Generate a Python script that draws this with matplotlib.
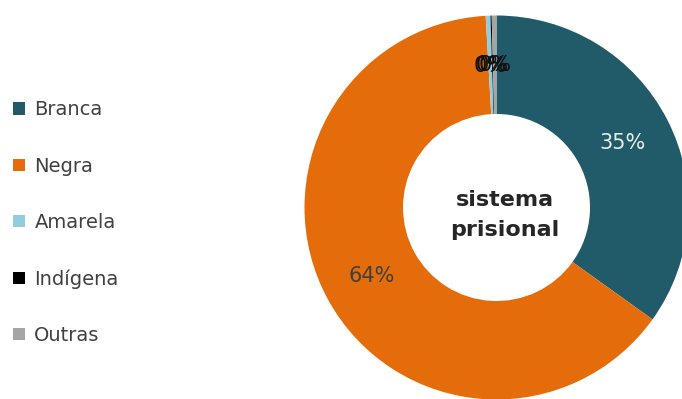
#!/usr/bin/env python3
"""Donut chart: cor/raça no sistema prisional."""

import matplotlib
matplotlib.use('Agg')
import matplotlib.pyplot as plt
from matplotlib.patches import Patch

plt.rcParams['font.family'] = ['DejaVu Sans']

categories = ['Branca', 'Negra', 'Amarela', 'Indígena', 'Outras']
values = [34.9, 64.2, 0.4, 0.1, 0.4]
colors = ['#215A69', '#E46C0A', '#92CDDC', '#000000', '#A5A5A5']
label_colors = ['#E8EEF0', '#3F3F3F', '#111111', '#111111', '#111111']
center_text = 'sistema\nprisional'


def main():
    fig = plt.figure(figsize=(6.82, 3.99), dpi=100)
    ax = fig.add_axes([0, 0, 1, 1])

    wedges, _, autotexts = ax.pie(
        values, colors=colors, startangle=90, counterclock=False,
        center=(496.5, 191.5), radius=192, autopct='%.0f%%', pctdistance=0.74,
        wedgeprops=dict(width=98.5, linewidth=0),
        textprops=dict(fontsize=15))
    for t, c in zip(autotexts, label_colors):
        t.set_color(c)

    ax.set_xlim(0, 682)
    ax.set_ylim(0, 399)
    ax.set_aspect('equal')
    ax.axis('off')

    ax.text(505, 184, center_text, ha='center', va='center',
            fontsize=16, fontweight='bold', color='#262626', linespacing=1.6)

    handles = [Patch(facecolor=c, edgecolor='none') for c in colors]
    ax.legend(handles, categories, loc='center left', bbox_to_anchor=(0.019, 0.442),
              frameon=False, fontsize=14, labelcolor='#404040',
              borderpad=0, borderaxespad=0,
              handlelength=0.6, handleheight=0.6, handletextpad=0.5,
              labelspacing=1.92)

    fig.savefig('out.png', dpi=100)
    plt.close(fig)


if __name__ == '__main__':
    main()
